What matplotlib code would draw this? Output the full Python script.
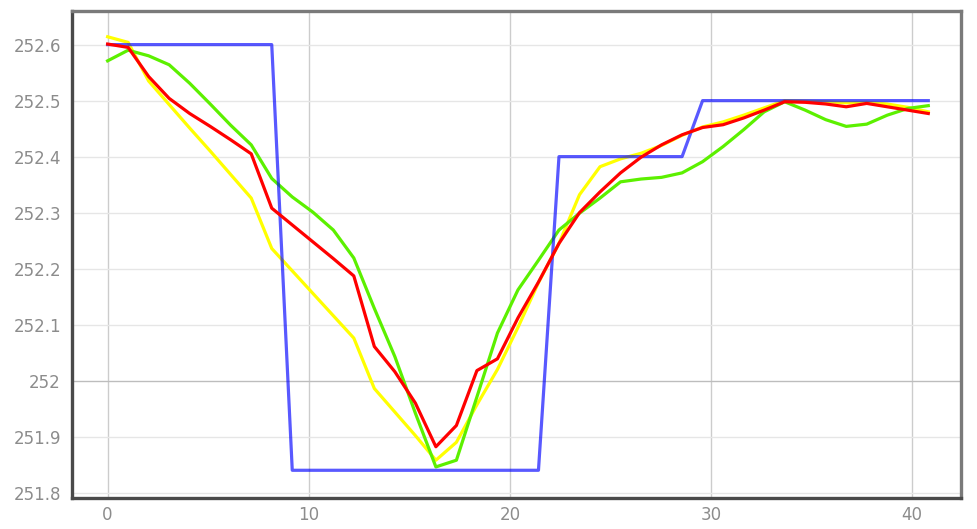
import numpy as np
import matplotlib.pyplot as plt

# sample positions (41 samples)
x = [0.0, 1.02, 2.04, 3.06, 4.08, 5.1, 6.12, 7.14, 8.16, 9.18,
     10.2, 11.22, 12.24, 13.26, 14.28, 15.3, 16.32, 17.34, 18.36, 19.38,
     20.4, 21.42, 22.44, 23.46, 24.48, 25.5, 26.52, 27.54, 28.56, 29.58,
     30.6, 31.62, 32.64, 33.66, 34.68, 35.7, 36.72, 37.74, 38.76, 39.78,
     40.8]

blue = [252.6] * 9 + [251.84] * 13 + [252.4] * 7 + [252.5] * 12

yellow = [252.614, 252.604, 252.535, 252.493, 252.451, 252.410, 252.368, 252.326, 252.236, 252.196,
          252.156, 252.116, 252.076, 251.986, 251.944, 251.902, 251.858, 251.890, 251.957, 252.020,
          252.095, 252.175, 252.245, 252.332, 252.382, 252.396, 252.406, 252.420, 252.438, 252.453,
          252.462, 252.474, 252.487, 252.500, 252.499, 252.498, 252.496, 252.497, 252.494, 252.488,
          252.480]

green = [252.571, 252.590, 252.580, 252.564, 252.531, 252.494, 252.456, 252.421, 252.361, 252.328,
         252.301, 252.269, 252.219, 252.129, 252.043, 251.942, 251.846, 251.858, 251.971, 252.085,
         252.162, 252.215, 252.269, 252.299, 252.326, 252.355, 252.360, 252.363, 252.371, 252.391,
         252.418, 252.448, 252.480, 252.498, 252.483, 252.466, 252.454, 252.458, 252.474, 252.486,
         252.491]

red = [252.601, 252.595, 252.543, 252.504, 252.477, 252.454, 252.430, 252.405, 252.308, 252.278,
       252.248, 252.218, 252.187, 252.061, 252.016, 251.960, 251.882, 251.920, 252.018, 252.039,
       252.112, 252.176, 252.245, 252.300, 252.337, 252.371, 252.399, 252.421, 252.439, 252.452,
       252.457, 252.469, 252.483, 252.498, 252.497, 252.494, 252.489, 252.495, 252.489, 252.483,
       252.477]

x_ticks = [0, 10, 20, 30, 40]
y_ticks = [251.8, 251.9, 252.0, 252.1, 252.2, 252.3, 252.4, 252.5, 252.6]

fig = plt.figure(figsize=(9.77, 5.29), dpi=100)
ax = fig.add_axes([0.0737, 0.0586, 0.91, 0.9206])

# grid
for v in x_ticks:
    ax.axvline(v, color='#cccccc', lw=1.0, zorder=0)
for v in y_ticks:
    c = '#bdbdbd' if abs(v - 252.0) < 1e-9 else '#e6e6e6'
    ax.axhline(v, color=c, lw=1.0, zorder=0)

# series
ax.plot(x, yellow, color='#ffff00', lw=2.3, zorder=2)
ax.plot(x, green, color='#5cf000', lw=2.3, zorder=3)
ax.plot(x, blue, color='#0000ff', alpha=0.65, lw=2.3, zorder=4)
ax.plot(x, red, color='#ff0000', lw=2.3, zorder=5)

ax.set_xlim(-1.77, 42.43)
ax.set_ylim(251.7905, 252.660)

ax.set_xticks(x_ticks)
ax.set_xticklabels([str(v) for v in x_ticks])
ax.set_yticks(y_ticks)
ax.set_yticklabels(['%g' % round(v, 1) for v in y_ticks])
ax.tick_params(axis='both', length=0, labelsize=12, labelcolor='#8c8c8c')
ax.tick_params(axis='y', pad=8)
ax.tick_params(axis='x', pad=6)

for side in ['left', 'bottom']:
    ax.spines[side].set_color('#4a4a4a')
    ax.spines[side].set_linewidth(2.4)
for side in ['top', 'right']:
    ax.spines[side].set_color('#7a7a7a')
    ax.spines[side].set_linewidth(2.4)

plt.savefig('out.png', dpi=100)
plt.close(fig)
